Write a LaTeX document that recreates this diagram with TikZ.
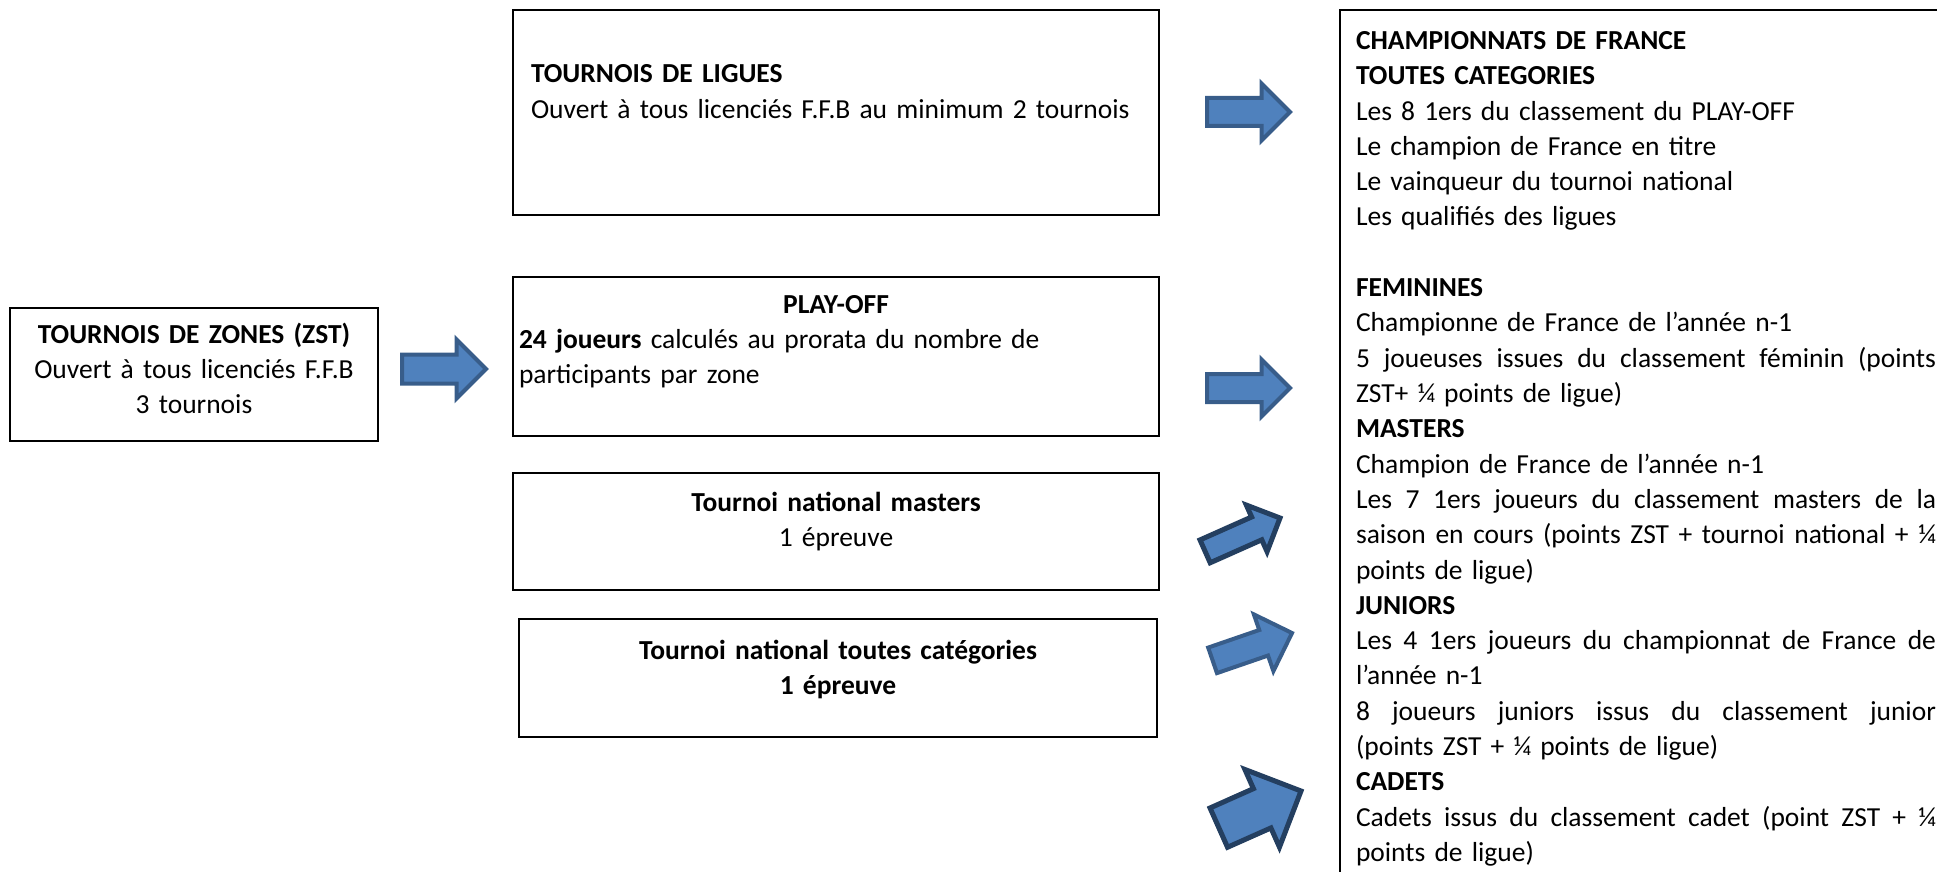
\documentclass[tikz,border=0pt]{standalone}
\usepackage{fontspec}
\setmainfont{Carlito}
\usetikzlibrary{shapes.arrows}
\definecolor{arrowfill}{HTML}{4F81BD}
\definecolor{arrowline}{HTML}{385D8A}
\definecolor{arrowdark}{HTML}{243F60}
\newcommand{\justline}[1]{\leavevmode\hbox to 580pt{\spaceskip=0.226em plus 1fil minus 0.1em\relax #1}}

\begin{document}
\begin{tikzpicture}[x=1pt, y=-1pt,
    box/.style={draw, line width=1.5pt, inner sep=0pt, outer sep=0pt, anchor=north west},
    txt/.style={inner sep=0pt, outer sep=0pt, font=\fontsize{27.5}{35.3}\selectfont},
    blockarrow/.style={single arrow, single arrow tip angle=90, fill=arrowfill, draw=arrowline,
        line width=4pt, inner xsep=0pt, outer sep=0pt, minimum width=1pt, anchor=tip}]

    \useasboundingbox (0, 0) rectangle (1937, 872);
    \clip (0, 0) rectangle (1937, 872);

    \node[box, minimum width=368pt, minimum height=133pt] (zones) at (10, 308) {};
    \node[box, minimum width=646pt, minimum height=205pt] (ligues) at (513, 10) {};
    \node[box, minimum width=646pt, minimum height=159pt] (playoff) at (513, 277) {};
    \node[box, minimum width=646pt, minimum height=117pt] (masters) at (513, 473) {};
    \node[box, minimum width=638pt, minimum height=118pt] (national) at (519, 619) {};
    \node[box, minimum width=700pt, minimum height=900pt] (champ) at (1340, 10) {};

    \node[txt, text width=368pt, align=center, anchor=base] (zonesT) at (194, 343)
        {\textbf{TOURNOIS DE ZONES (ZST)}\\Ouvert à tous licenciés F.F.B\\3 tournois};
    \node[txt, text width=620pt, align=left, anchor=base west] (liguesT) at (531, 83)
        {\textbf{TOURNOIS DE LIGUES}\\Ouvert à tous licenciés F.F.B au minimum 2 tournois};
    \node[txt, text width=634pt, align=center, anchor=base] (playoffT) at (836, 313)
        {\textbf{PLAY-OFF}};
    \node[txt, text width=634pt, align=left, anchor=base west] (playoffB) at (519, 348)
        {\textbf{24 joueurs} calculés au prorata du nombre de\\
         participants par zone};
    \node[txt, text width=646pt, align=center, anchor=base] (mastersT) at (836, 511)
        {\textbf{Tournoi national masters}\\1 épreuve};
    \node[txt, text width=638pt, align=center, anchor=base] (nationalT) at (838, 659)
        {\textbf{Tournoi national toutes catégories}\\\textbf{1 épreuve}};

    \node[txt, text width=580pt, align=left, anchor=base west] (champT) at (1356, 49.5)
        {\textbf{CHAMPIONNATS DE FRANCE}\\
         \textbf{TOUTES CATEGORIES}\\
         Les 8 1ers du classement du PLAY-OFF\\
         Le champion de France en titre\\
         Le vainqueur du tournoi national\\
         Les qualifiés des ligues\\
         ~\\
         \textbf{FEMININES}\\
         Championne de France de l’année n-1\\
         \justline{5 joueuses issues du classement féminin (points}\\
         ZST+ ¼ points de ligue)\\
         \textbf{MASTERS}\\
         Champion de France de l’année n-1\\
         \justline{Les 7 1ers joueurs du classement masters de la}\\
         \justline{saison en cours (points ZST + tournoi national + ¼}\\
         points de ligue)\\
         \textbf{JUNIORS}\\
         \justline{Les 4 1ers joueurs du championnat de France de}\\
         l’année n-1\\
         \justline{8 joueurs juniors issus du classement junior}\\
         (points ZST + ¼ points de ligue)\\
         \textbf{CADETS}\\
         \justline{Cadets issus du classement cadet (point ZST + ¼}\\
         points de ligue)};

    \foreach \n/\y in {a1/112, a2/388}
        \node[blockarrow, minimum height=83pt, inner ysep=12pt,
            single arrow head extend=14.5pt] (\n) at (1290, \y) {};
    \node[blockarrow, minimum height=84pt, inner ysep=12.5pt,
        single arrow head extend=15pt] (a0) at (486, 369) {};
    \node[blockarrow, draw=arrowdark, line width=5pt, rotate=24, minimum height=82pt,
        inner ysep=10pt, single arrow head extend=13pt] (a3) at (1280, 518) {};
    \node[blockarrow, rotate=19, minimum height=84pt, inner ysep=11.5pt,
        single arrow head extend=16.5pt] (a4) at (1292, 633) {};
    \node[blockarrow, draw=arrowdark, line width=5pt, rotate=24, minimum height=90pt,
        inner ysep=19pt, single arrow head extend=21pt] (a5) at (1301, 791) {};

\end{tikzpicture}
\end{document}
